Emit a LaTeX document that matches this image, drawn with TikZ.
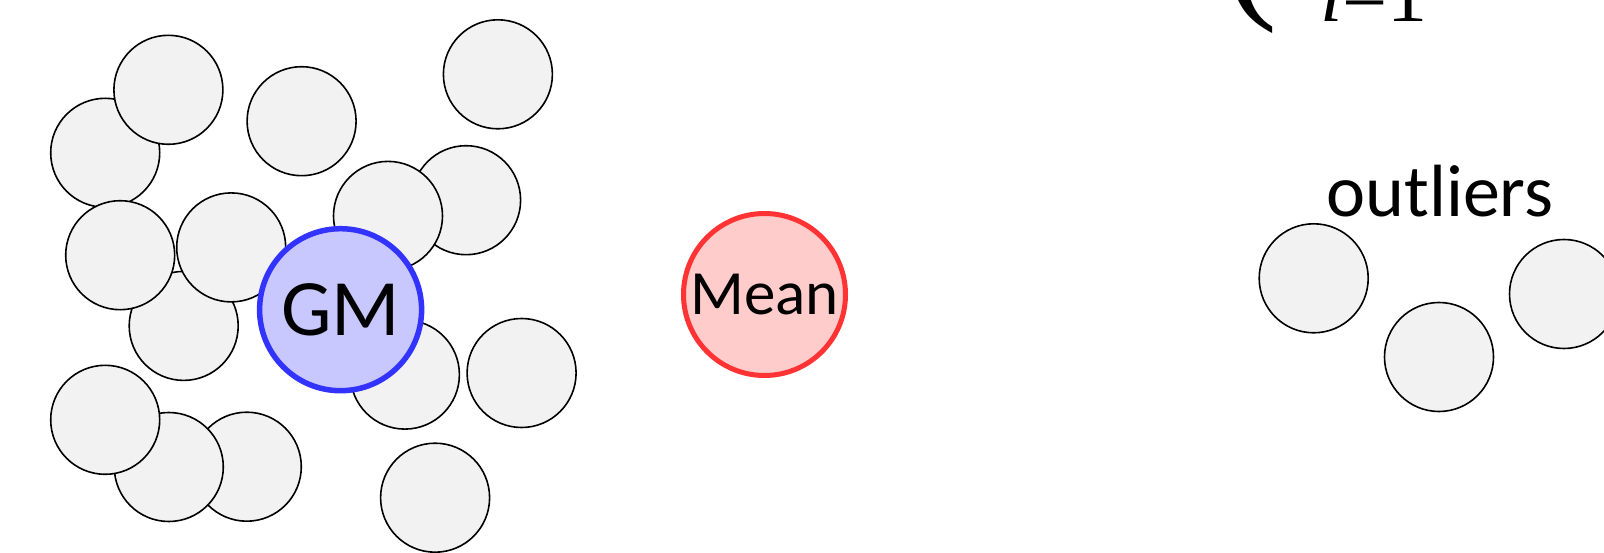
\documentclass[tikz,border=0pt]{standalone}
\usepackage{fontspec}
\setmainfont{Carlito}
\newfontfamily\tms{Liberation Serif}
\definecolor{ptfill}{HTML}{F2F2F2}
\definecolor{gmfill}{HTML}{C8C8FF}
\definecolor{gmline}{HTML}{3333FF}
\definecolor{mnfill}{HTML}{FFCCCC}
\definecolor{mnline}{HTML}{FF3333}
\tikzset{
  pt/.style={circle, draw=black, fill=ptfill, line width=1.6pt, minimum size=109pt, inner sep=0pt},
  gm/.style={circle, draw=gmline, fill=gmfill, line width=5.5pt, minimum size=162pt, inner sep=0pt, font=\fontsize{80}{88}\selectfont},
  mn/.style={circle, draw=mnline, fill=mnfill, line width=5pt, minimum size=162pt, inner sep=0pt, font=\fontsize{63}{70}\selectfont},
  lbl/.style={inner sep=0pt, font=\fontsize{74}{80}\selectfont},
  frm/.style={inner sep=0pt, font=\tms\fontsize{80}{88}\selectfont}
}
\begin{document}
\begin{tikzpicture}[x=1pt,y=-1pt]
\useasboundingbox (0,0) rectangle (1604,553);
\clip (0,0) rectangle (1604,553);
\fill[white] (0,0) rectangle (1604,553);
% cluster
\node[pt] (a) at (105.2,152.8) {};
\node[pt] (b) at (168.4,89.8) {};
\node[pt] (c) at (301.6,121.2) {};
\node[pt] (d) at (497.9,74.3) {};
\node[pt] (f) at (466.1,200.2) {};
\node[pt] (e) at (388.0,215.9) {};
\node[pt] (i) at (183.7,325.9) {};
\node[pt] (g) at (120.2,255.2) {};
\node[pt] (h) at (231.2,247.4) {};
\node[pt] (k) at (404.9,374.6) {};
\node[pt] (l) at (521.6,373.0) {};
\node[pt] (o) at (246.8,466.7) {};
\node[pt] (n) at (168.8,467.0) {};
\node[pt] (m) at (105.2,419.8) {};
\node[pt] (p) at (435.1,497.7) {};
\node[gm] (gmn) at (340.6,309.7) {GM};
\node[mn] (mean) at (764.5,294.5) {Mean};
% outliers
\node[lbl, anchor=base] (olab) at (1440,217) {outliers};
\node[pt] (q) at (1313.7,278.3) {};
\node[pt] (r) at (1439.0,357.0) {};
\node[pt] (s) at (1564.0,294.0) {};
% cropped formula
\node[frm, anchor=base west] (sub) at (1320,22) {\textit{i}=1};
\node[inner sep=0pt, anchor=base east, font=\tms\fontsize{160}{170}\selectfont] (par) at (1278,0) {(};
\end{tikzpicture}
\end{document}
